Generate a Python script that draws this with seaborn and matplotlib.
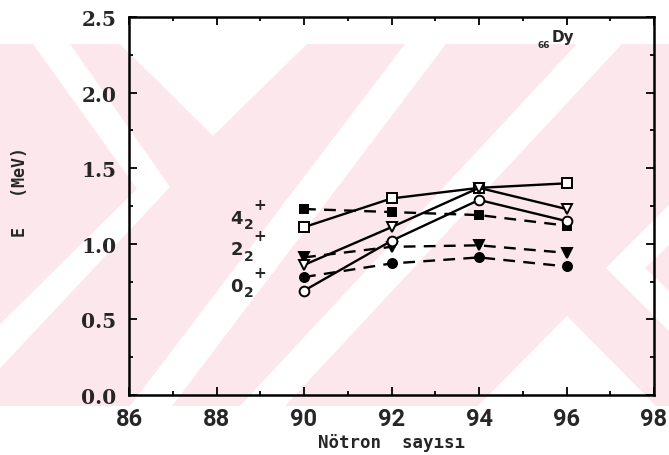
import matplotlib
matplotlib.use("Agg")
import matplotlib.pyplot as plt
from matplotlib.patches import Polygon, Rectangle
from matplotlib.ticker import MultipleLocator
import seaborn as sns

# =============================
# DATA
# =============================
neutrons = [90, 92, 94, 96]

# calculated levels (solid line, open markers)
calc_4 = [1.11, 1.30, 1.37, 1.40]
calc_2 = [0.86, 1.11, 1.37, 1.23]
calc_0 = [0.69, 1.02, 1.29, 1.15]

# experimental levels (dashed line, filled markers)
exp_4 = [1.23, 1.21, 1.19, 1.12]
exp_2 = [0.91, 0.98, 0.99, 0.94]
exp_0 = [0.78, 0.87, 0.91, 0.85]

level_names = ["4", "2", "0"]
level_label_y = [1.14, 0.93, 0.69]
label_x = 88.6

x_ticks = [86, 88, 90, 92, 94, 96, 98]
y_ticks = [0.0, 0.5, 1.0, 1.5, 2.0, 2.5]

W, H = 669, 456

sns.set_style("ticks")
plt.rcParams["font.family"] = ["DejaVu Sans"]

fig = plt.figure(figsize=(W / 100, H / 100), dpi=100)
fig.patch.set_facecolor("white")


# =============================
# BACKGROUND WATERMARK (scan)
# =============================
def px(pts):
    return [(x / W, 1 - y / H) for x, y in pts]


pink = "#fce8ec"
fig.add_artist(Rectangle((0, 1 - 407 / H), 1, (407 - 45) / H,
                         transform=fig.transFigure, color=pink, zorder=-2, lw=0))
white_shapes = [
    [(33, 45), (70, 45), (170, 188), (-10, 380), (-10, 335), (137, 190)],
    [(120, 45), (307, 45), (213, 137)],
    [(130, 407), (172, 407), (446, 45), (405, 45)],
    [(240, 407), (285, 407), (622, 45), (577, 45)],
    [(478, 407), (567, 317), (656, 407)],
    [(670, 205), (670, 245), (645, 269), (670, 293), (670, 333), (606, 269)],
]
for shp in white_shapes:
    fig.add_artist(Polygon(px(shp), closed=True, transform=fig.transFigure,
                           color="white", zorder=-1, lw=0))

# =============================
# AXES
# =============================
ax = fig.add_axes([129 / W, 1 - 396 / H, (654 - 129) / W, (396 - 18) / H])
ax.set_facecolor("none")

dash = (0, (5, 3.5))
series = [
    (exp_4, "s", "black", dash, 5.5),
    (exp_2, "v", "black", dash, 6.5),
    (exp_0, "o", "black", dash, 6.5),
    (calc_4, "s", "white", "-", 6.5),
    (calc_2, "v", "white", "-", 7),
    (calc_0, "o", "white", "-", 7),
]
for vals, mk, face, ls, ms in series:
    sns.lineplot(x=neutrons, y=vals, ax=ax, color="black", linestyle=ls,
                 linewidth=1.7, marker=mk, markersize=ms,
                 markerfacecolor=face, markeredgecolor="black",
                 markeredgewidth=1.4)

ax.set_xlim(86, 98)
ax.set_ylim(0, 2.5)
ax.set_xticks(x_ticks)
ax.set_yticks(y_ticks)
ax.xaxis.set_minor_locator(MultipleLocator(1))
ax.yaxis.set_minor_locator(MultipleLocator(0.25))
ax.set_xticklabels([str(t) for t in x_ticks], fontfamily="Roboto",
                   fontweight="bold", fontsize=17)
ax.set_yticklabels([f"{t:.1f}" for t in y_ticks], fontfamily="DejaVu Serif",
                   fontweight="bold", fontsize=14.5)
ax.tick_params(which="both", direction="in", top=True, right=True,
               color="black", width=1.3)
ax.tick_params(which="major", length=6, pad=9)
ax.tick_params(which="minor", length=3)
for sp in ax.spines.values():
    sp.set_visible(True)
    sp.set_linewidth(1.8)
    sp.set_color("black")

ax.set_xlabel("Nötron  sayısı", fontfamily="DejaVu Sans Mono",
              fontweight="bold", fontsize=12.5)
ax.xaxis.set_label_coords(0.5, -0.1)
ax.set_ylabel("E   (MeV)", fontfamily="DejaVu Sans Mono",
              fontweight="bold", fontsize=12)
ax.yaxis.set_label_coords(-0.19, 0.54)

# level labels: 4_2^+, 2_2^+, 0_2^+
for name, ly in zip(level_names, level_label_y):
    ax.text(label_x, ly, name, fontsize=13, fontweight="bold",
            fontfamily="DejaVu Sans", ha="right", va="baseline")
    ax.annotate("2", (label_x, ly), xytext=(1, -4), textcoords="offset points",
                fontsize=10, fontweight="bold", ha="left", va="baseline")
    ax.annotate("+", (label_x, ly), xytext=(8, 10), textcoords="offset points",
                fontsize=11, fontweight="bold", ha="left", va="baseline")

# nucleus label
ax.text(95.62, 2.30, "66", fontsize=6.5, fontweight="bold", ha="right",
        va="baseline")
ax.text(95.66, 2.34, "Dy", fontsize=11, fontweight="bold",
        ha="left", va="baseline")

plt.savefig("out.png", dpi=100)
